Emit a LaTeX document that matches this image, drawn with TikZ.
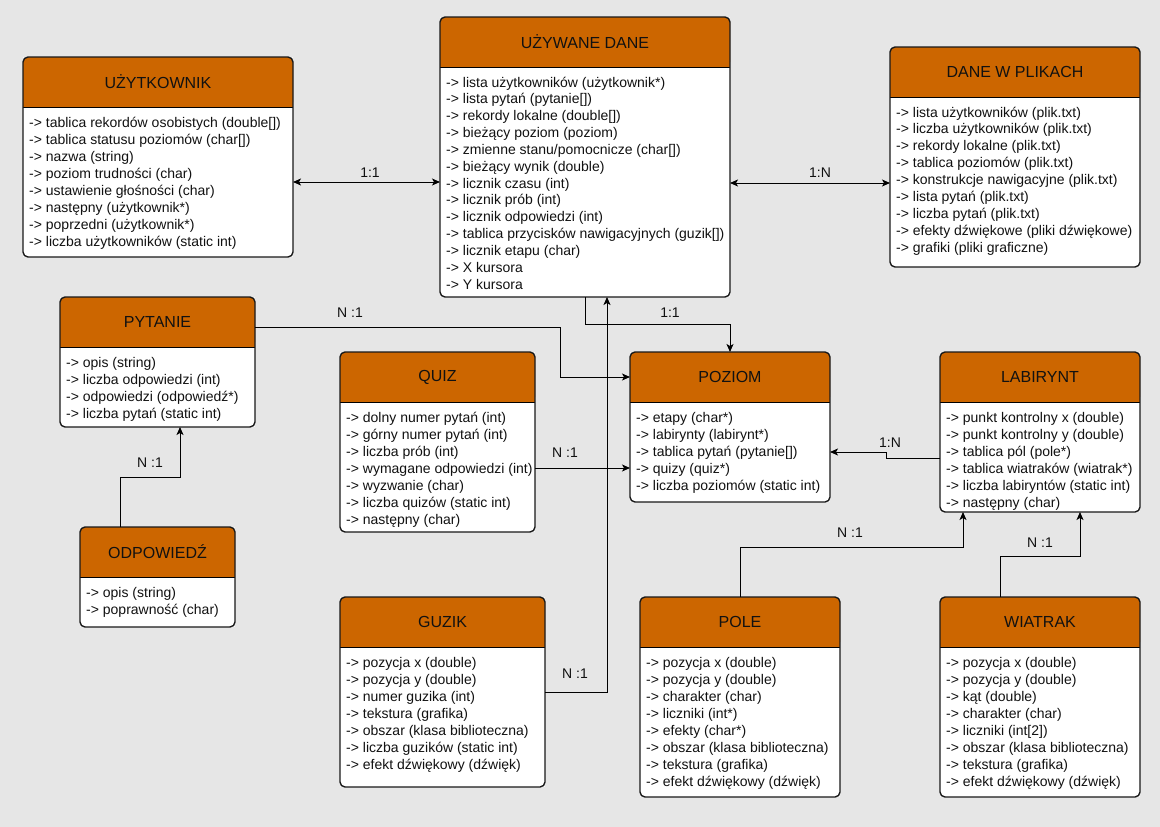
\documentclass[tikz,border=0pt]{standalone}
\usepackage{fontspec}
\setmainfont{Liberation Sans}
\usetikzlibrary{arrows.meta}
\definecolor{bgc}{HTML}{E6E6E6}
\definecolor{hdrc}{HTML}{CC6600}
\definecolor{txtc}{HTML}{111111}
\tikzset{
  boxbody/.style={fill=white, draw=none, inner sep=0pt, outer sep=0pt},
  boxline/.style={draw=black!90, line width=1.4pt},
  titlefont/.style={font=\fontsize{16}{19}\selectfont, text=txtc, inner sep=0pt},
  bodyfont/.style={font=\fontsize{14}{17}\selectfont, text=txtc, inner sep=0pt},
  lbl/.style={font=\fontsize{14}{17}\selectfont, text=txtc, inner sep=0pt},
  conn/.style={draw=black, line width=1pt, -{Stealth[length=8pt,width=7pt,inset=2pt]}},
  biconn/.style={draw=black, line width=1pt, {Stealth[length=8pt,width=7pt,inset=2pt]}-{Stealth[length=8pt,width=7pt,inset=2pt]}},
}
% #1 spacing, #2 name, #3 x, #4 y, #5 w, #6 h, #7 title, #8 lines
\newcommand\umlbox[8][17]{%
  \node[boxbody, anchor=north west, minimum width=#5pt, minimum height=#6pt] (#2) at (#3,#4) {};
  \fill[hdrc, rounded corners=5pt] (#2.north west) rectangle ([yshift=-50pt]#2.north east);
  \fill[hdrc] ([yshift=-25pt]#2.north west) rectangle ([yshift=-50pt]#2.north east);
  \draw[black, line width=1pt] ([yshift=-50pt]#2.north west) -- ([yshift=-50pt]#2.north east);
  \draw[boxline, rounded corners=5pt] (#2.north west) rectangle (#2.south east);
  \node[titlefont] (#2-title) at ([yshift=-25pt]#2.north) {#7};
  \foreach \l [count=\i] in {#8}
    \node[bodyfont, anchor=base west] (#2-\i) at ([xshift=6pt, yshift={-70pt-(\i-1)*#1pt}]#2.north west) {\l};
}
\begin{document}
\begin{tikzpicture}[x=1pt, y=-1pt]
\useasboundingbox (0,0) rectangle (1160,827);
\fill[bgc] (0,0) rectangle (1160,827);

\umlbox{uz}{23}{57}{270}{200}{UŻYTKOWNIK}{%
-> tablica rekordów osobistych (double[]),
-> tablica statusu poziomów (char[]),
-> nazwa (string),
-> poziom trudności (char),
-> ustawienie głośności (char),
-> następny (użytkownik*),
-> poprzedni (użytkownik*),
-> liczba użytkowników (static int)}

\umlbox[16.85]{ud}{440}{17}{290}{280}{UŻYWANE DANE}{%
-> lista użytkowników (użytkownik*),
-> lista pytań (pytanie[]),
-> rekordy lokalne (double[]),
-> bieżący poziom (poziom),
-> zmienne stanu/pomocnicze (char[]),
-> bieżący wynik (double),
-> licznik czasu (int),
-> licznik prób (int),
-> licznik odpowiedzi (int),
-> tablica przycisków nawigacyjnych (guzik[]),
-> licznik etapu (char),
-> X kursora,
-> Y kursora}

\umlbox[16.9]{dp}{890}{47}{250}{220}{DANE W PLIKACH}{%
-> lista użytkowników (plik.txt),
-> liczba użytkowników (plik.txt),
-> rekordy lokalne (plik.txt),
-> tablica poziomów (plik.txt),
-> konstrukcje nawigacyjne (plik.txt),
-> lista pytań (plik.txt),
-> liczba pytań (plik.txt),
-> efekty dźwiękowe (pliki dźwiękowe),
-> grafiki (pliki graficzne)}

\umlbox{py}{60}{297}{195}{130}{PYTANIE}{%
-> opis (string),
-> liczba odpowiedzi (int),
-> odpowiedzi (odpowiedź*),
-> liczba pytań (static int)}

\umlbox{od}{80}{527}{155}{100}{ODPOWIEDŹ}{%
-> opis (string),
-> poprawność (char)}

\umlbox{qz}{340}{352}{195}{180}{QUIZ}{%
-> dolny numer pytań (int),
-> górny numer pytań (int),
-> liczba prób (int),
-> wymagane odpowiedzi (int),
-> wyzwanie (char),
-> liczba quizów (static int),
-> następny (char)}

\umlbox{pz}{630}{352}{200}{150}{POZIOM}{%
-> etapy (char*),
-> labirynty (labirynt*),
-> tablica pytań (pytanie[]),
-> quizy (quiz*),
-> liczba poziomów (static int)}

\umlbox{lb}{940}{352}{200}{160}{LABIRYNT}{%
-> punkt kontrolny x (double),
-> punkt kontrolny y (double),
-> tablica pól (pole*),
-> tablica wiatraków (wiatrak*),
-> liczba labiryntów (static int),
-> następny (char)}

\umlbox{gz}{340}{597}{205}{190}{GUZIK}{%
-> pozycja x (double),
-> pozycja y (double),
-> numer guzika (int),
-> tekstura (grafika),
-> obszar (klasa biblioteczna),
-> liczba guzików (static int),
-> efekt dźwiękowy (dźwięk)}

\umlbox{pl}{640}{597}{200}{200}{POLE}{%
-> pozycja x (double),
-> pozycja y (double),
-> charakter (char),
-> liczniki (int*),
-> efekty (char*),
-> obszar (klasa biblioteczna),
-> tekstura (grafika),
-> efekt dźwiękowy (dźwięk)}

\umlbox{wt}{940}{597}{200}{200}{WIATRAK}{%
-> pozycja x (double),
-> pozycja y (double),
-> kąt (double),
-> charakter (char),
-> liczniki (int[2]),
-> obszar (klasa biblioteczna),
-> tekstura (grafika),
-> efekt dźwiękowy (dźwięk)}

% connectors
\draw[biconn] ([yshift=-125pt]uz.north east) -- ([yshift=-165pt]ud.north west);
\draw[biconn] ([yshift=-166pt]ud.north east) -- ([yshift=-136pt]dp.north west);
\draw[conn] ([yshift=-30pt]py.north east) -| ([xshift=-70pt,yshift=-25pt]pz.north west) -- ([yshift=-25pt]pz.north west);
\draw[conn] ([xshift=145pt]ud.south west) |- ([yshift=28pt]pz.north) -- (pz.north);
\draw[conn] ([yshift=-95pt]gz.north east) -| ([xshift=167pt]ud.south west);
\draw[conn] ([yshift=-116pt]qz.north east) -- ([yshift=-116pt]pz.north west);
\draw[conn] ([xshift=40pt]od.north west) -- ++(0,-50) -| ([xshift=120pt]py.south west);
\draw[conn] ([yshift=-106pt]lb.north west) -- ++(-54,0) -- ++(0,-6) -- ([yshift=-100pt]pz.north east);
\draw[conn] (pl.north) -- ++(0,-50) -| ([xshift=23pt]lb.south west);
\draw[conn] ([xshift=60pt]wt.north west) -- ++(0,-41) -| ([xshift=140pt]lb.south west);

% labels
\node[lbl] (l1) at (370,173) {1:1};
\node[lbl] (l2) at (820,173) {1:N};
\node[lbl] (l3) at (350,313) {N :1};
\node[lbl] (l4) at (670,313) {1:1};
\node[lbl] (l5) at (565,453) {N :1};
\node[lbl] (l6) at (150,463) {N :1};
\node[lbl] (l7) at (575,674) {N :1};
\node[lbl] (l8) at (890,443) {1:N};
\node[lbl] (l9) at (850,533) {N :1};
\node[lbl] (l10) at (1040,543) {N :1};
\end{tikzpicture}
\end{document}
